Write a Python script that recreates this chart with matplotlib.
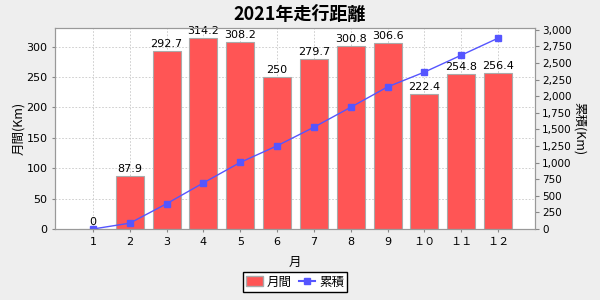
import matplotlib
import matplotlib.pyplot as plt
from matplotlib.ticker import FuncFormatter, MultipleLocator
from matplotlib.lines import Line2D
from matplotlib.patches import Patch

matplotlib.use("Agg")

plt.rcParams["font.family"] = ["DejaVu Sans", "Noto Sans CJK JP"]

months = ["1", "2", "3", "4", "5", "6", "7", "8", "9", "１０", "１１", "１２"]
monthly = [0, 87.9, 292.7, 314.2, 308.2, 250, 279.7, 300.8, 306.6, 222.4, 254.8, 256.4]
cumulative = [0, 87.9, 380.6, 694.8, 1003.0, 1253.0, 1532.7, 1833.5, 2140.1,
              2362.5, 2617.3, 2873.7]

bar_color = "#FF5555"
line_color = "#5555FF"
grid_color = "#C8C8C8"
cjk = ["Noto Sans CJK JP", "DejaVu Sans"]

fig = plt.figure(figsize=(6, 3), dpi=100)
fig.patch.set_facecolor("#EEEEEE")
ax = fig.add_axes([55 / 600, 1 - 229 / 300, 480 / 600, 201 / 300])
ax.set_facecolor("white")

x = list(range(1, len(months) + 1))
ax.bar(x, monthly, width=0.76, color=bar_color, edgecolor="#AAAAAA", linewidth=0.8)
for xi, v in zip(x, monthly):
    ax.text(xi, v + 3, f"{v:g}", ha="center", va="bottom", fontsize=8)

ax.set_xlim(-0.03, 13.0)
ax.set_ylim(0, max(monthly) * 1.053)
ax.set_xticks(x)
ax.set_xticklabels(months, fontsize=8)
ax.yaxis.set_major_locator(MultipleLocator(50))
ax.tick_params(axis="y", labelsize=8, length=2, color="#888888")
ax.tick_params(axis="x", length=2, color="#888888", pad=4)
ax.set_axisbelow(True)
ax.grid(True, color=grid_color, linestyle=(0, (2, 2)), linewidth=0.6)
for s in ax.spines.values():
    s.set_color("#999999")
ax.set_ylabel("月間(Km)", fontsize=9, family=cjk, labelpad=1)
ax.set_xlabel("月", fontsize=9, family=cjk, labelpad=6)

ax2 = ax.twinx()
ax2.plot(x, cumulative, color=line_color, linewidth=1, marker="s", markersize=5)
ax2.set_ylim(0, max(cumulative) * 1.053)
ax2.yaxis.set_major_locator(MultipleLocator(250))
ax2.yaxis.set_major_formatter(FuncFormatter(lambda v, p: f"{v:,.0f}"))
ax2.tick_params(axis="y", labelsize=7.5, length=3, color="#888888", pad=2)
for s in ax2.spines.values():
    s.set_color("#999999")
ax2.set_ylabel("累積(Km)", fontsize=9, rotation=-90, labelpad=10, family=cjk)

fig.suptitle("2021年走行距離", y=0.985, fontsize=13, fontweight="bold", family=cjk)

handles = [
    Patch(facecolor=bar_color, edgecolor="#AAAAAA", label="月間"),
    Line2D([0], [0], color=line_color, marker="s", markersize=5, label="累積"),
]
leg = fig.legend(handles=handles, loc="center", bbox_to_anchor=(0.492, 1 - 282 / 300),
                 ncol=2, frameon=True, fancybox=False, framealpha=1,
                 handlelength=1.3, handleheight=0.9, handletextpad=0.3,
                 columnspacing=0.6, borderpad=0.25, borderaxespad=0,
                 prop={"family": cjk, "size": 9})
leg.get_frame().set_edgecolor("black")
leg.get_frame().set_linewidth(1)

fig.savefig("out.png", dpi=100, facecolor=fig.get_facecolor())
plt.close(fig)
